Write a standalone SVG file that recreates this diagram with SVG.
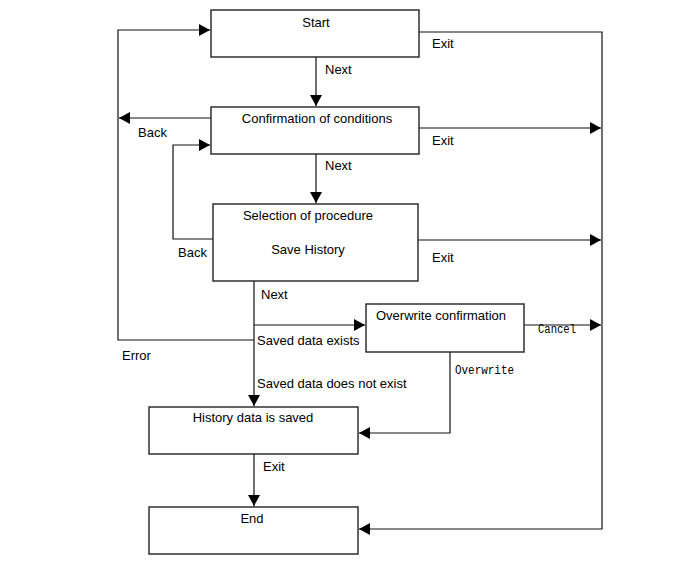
<svg xmlns="http://www.w3.org/2000/svg" width="691" height="564" viewBox="0 0 691 564">
<style>
.box{fill:#fff;stroke:#222;stroke-width:1.4}
.ln{fill:none;stroke:#111;stroke-width:1.2}
.t{font-family:"Liberation Sans",Arial,sans-serif;font-size:13px;fill:#000}
.c{text-anchor:middle}
.m{font-family:"Liberation Mono","DejaVu Sans Mono",monospace;font-size:12.5px;fill:#000}
</style>
<defs>
<marker id="ah" markerUnits="userSpaceOnUse" markerWidth="12" markerHeight="12" refX="11" refY="6" orient="auto">
<path d="M0,0 L11,6 L0,12 z" fill="#000"/>
</marker>
</defs>
<rect width="691" height="564" fill="#fff"/>
<g id="connectors">
<path class="ln" d="M254,340 H118 V30 H210" marker-end="url(#ah)"/>
<path class="ln" d="M316,57 V106" marker-end="url(#ah)"/>
<path class="ln" d="M211,118 H119" marker-end="url(#ah)"/>
<path class="ln" d="M213,239 H173 V145 H210" marker-end="url(#ah)"/>
<path class="ln" d="M316,154 V203" marker-end="url(#ah)"/>
<path class="ln" d="M419,32 H602 V529 H359" marker-end="url(#ah)"/>
<path class="ln" d="M419,128 H601" marker-end="url(#ah)"/>
<path class="ln" d="M418,240 H601" marker-end="url(#ah)"/>
<path class="ln" d="M254,281 V406" marker-end="url(#ah)"/>
<path class="ln" d="M254,325 H365" marker-end="url(#ah)"/>
<path class="ln" d="M524,325 H601" marker-end="url(#ah)"/>
<path class="ln" d="M450,352 V433 H359" marker-end="url(#ah)"/>
<path class="ln" d="M254,454 V506" marker-end="url(#ah)"/>
<text class="t" x="325" y="74">Next</text>
<text class="t" x="138" y="137">Back</text>
<text class="t" x="325" y="170">Next</text>
<text class="t" x="432" y="48">Exit</text>
<text class="t" x="432" y="145">Exit</text>
<text class="t" x="178" y="257">Back</text>
<text class="t" x="432" y="262">Exit</text>
<text class="t" x="261" y="299">Next</text>
<text class="t" x="257" y="345">Saved data exists</text>
<text class="t" x="122" y="360">Error</text>
<text class="t" x="257" y="388">Saved data does not exist</text>
<text class="m" x="538" y="333" textLength="38" lengthAdjust="spacingAndGlyphs">Cancel</text>
<text class="m" x="455" y="374" textLength="59" lengthAdjust="spacingAndGlyphs">Overwrite</text>
<text class="t" x="263" y="471">Exit</text>
</g>
<g id="start">
<rect class="box" x="211" y="10" width="208" height="47"/>
<text class="t c" x="316" y="27">Start</text>
</g>
<g id="confirmation">
<rect class="box" x="211" y="107" width="208" height="47"/>
<text class="t c" x="317" y="123">Confirmation of conditions</text>
</g>
<g id="selection">
<rect class="box" x="213" y="204" width="205" height="77"/>
<text class="t c" x="308" y="220">Selection of procedure</text>
<text class="t c" x="308" y="254">Save History</text>
</g>
<g id="overwrite">
<rect class="box" x="366" y="304" width="158" height="48"/>
<text class="t" x="376" y="320">Overwrite confirmation</text>
</g>
<g id="history">
<rect class="box" x="149" y="407" width="209" height="47"/>
<text class="t c" x="253" y="422">History data is saved</text>
</g>
<g id="end">
<rect class="box" x="149" y="507" width="209" height="47"/>
<text class="t c" x="252" y="523">End</text>
</g>
</svg>
